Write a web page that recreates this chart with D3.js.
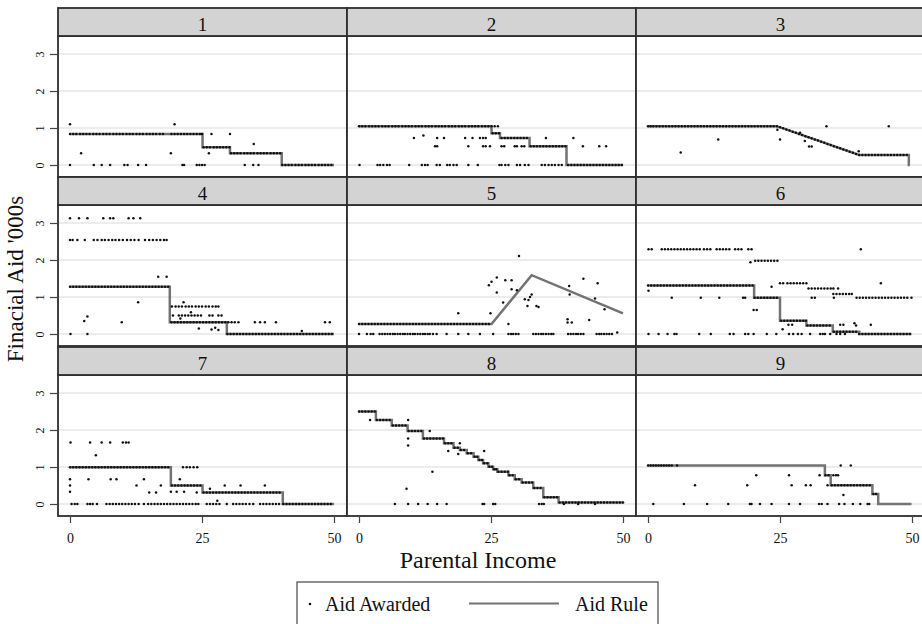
<!DOCTYPE html>
<html>
<head>
<meta charset="utf-8">
<script src="https://cdn.jsdelivr.net/npm/d3@7"></script>
<style>
  body { margin: 0; background: #fff; }
  svg text { font-family: "Liberation Serif", "Times New Roman", serif; fill: #111; }
</style>
</head>
<body>
<svg id="chart" width="922" height="624"></svg>
<script>
// ---- data -------------------------------------------------------------
const panelLabels = ["1", "2", "3", "4", "5", "6", "7", "8", "9"];
const yTicks = [0, 1, 2, 3];
const xTicks = [0, 25, 50];
const yTitle = "Finacial Aid '000s";
const xTitle = "Parental Income";
const legendLabels = ["Aid Awarded", "Aid Rule"];

// Aid rule: vertices [parental income, aid] for each panel
const rule1 = [[0,0.84],[25.1,0.84],[25.1,0.48],[30.3,0.48],[30.3,0.32],[40.1,0.32],[40.1,0],[50,0]];
const rule2 = [[0,1.05],[25.1,1.05],[25.1,0.86],[26.7,0.86],[26.7,0.73],[32.3,0.73],[32.3,0.51],[39.3,0.51],[39.3,0],[50,0]];
const rule3 = [[0,1.05],[24.4,1.05],[40.0,0.27],[49.4,0.27],[49.4,0],[49.6,0]];
const rule4 = [[0,1.28],[18.9,1.28],[18.9,0.32],[29.7,0.32],[29.7,0],[50,0]];
const rule5 = [[0,0.27],[25.1,0.27],[32.7,1.59],[50,0.56]];
const rule6 = [[0,1.31],[20.1,1.31],[20.1,0.98],[25.0,0.98],[25.0,0.36],[30.0,0.36],[30.0,0.23],[35.0,0.23],[35.0,0.06],[40.0,0.06],[40.0,0],[49.9,0]];
const rule7 = [[0,0.99],[19.1,0.99],[19.1,0.5],[25.1,0.5],[25.1,0.31],[40.3,0.31],[40.3,0],[50,0]];
const rule8 = [[0,2.5],[3.2,2.5],[3.2,2.27],[6.2,2.27],[6.2,2.12],[9.2,2.12],[9.2,1.97],[12.1,1.97],[12.1,1.77],[16.1,1.77],[16.1,1.64],[17.9,1.64],[17.9,1.52],[19.1,1.52],[19.1,1.46],[20.4,1.46],[20.4,1.37],[21.7,1.37],[21.7,1.28],[22.6,1.28],[22.6,1.19],[23.5,1.19],[23.5,1.10],[24.5,1.10],[24.5,1.01],[25.4,1.01],[25.4,0.94],[26.2,0.94],[26.2,0.87],[28.3,0.87],[28.3,0.78],[29.5,0.78],[29.5,0.67],[30.8,0.67],[30.8,0.58],[33.0,0.58],[33.0,0.43],[34.9,0.43],[34.9,0.18],[37.8,0.18],[37.8,0.04],[50,0.04]];
const rule9 = [[0,1.04],[33.5,1.04],[33.5,0.78],[34.6,0.78],[34.6,0.51],[42.5,0.51],[42.5,0.27],[43.6,0.27],[43.6,0],[49.9,0]];

// Aid awarded: rows of [aid, [parental incomes]]
const award1 = [
  [1.1, [0, 19.8]],
  [0.84, [0,0.6,1.2,1.9,2.5,3.1,3.7,4.4,5.0,5.6,6.3,6.9,7.5,8.2,8.8,9.4,10.0,10.7,11.3,11.9,12.6,13.2,13.8,14.5,15.1,15.7,16.3,17.0,17.6,19.2,19.8,20.4,21.0,21.6,22.2,22.8,23.4,24.0,24.6,25.0,26.8,30.3]],
  [0.57, [34.8]],
  [0.48, [25.3,25.9,26.5,27.2,27.8,28.4,29.0,29.6,30.2]],
  [0.32, [2.1,19.1,26.3,30.5,31.1,31.7,32.3,33.0,33.6,34.2,34.8,35.5,36.1,36.7,37.3,38.0,38.6,39.2,39.8]],
  [0, [0,4.5,6.0,7.6,10.3,10.9,12.9,14.4,21.3,21.6,24.0,24.5,25.0,25.5,33.1,34.7,35.7,40.2,40.8,41.4,42.0,42.7,43.3,43.9,44.6,45.2,45.8,46.4,47.1,47.7,48.3,48.9,49.5]]
];
const award2 = [
  [1.05, [0,0.6,1.2,1.9,2.5,3.1,3.7,4.4,5.0,5.6,6.3,6.9,7.5,8.2,8.8,9.4,10.0,10.7,11.3,11.9,12.6,13.2,13.8,14.5,15.1,15.7,16.3,17.0,17.6,18.2,18.9,19.5,20.1,20.8,21.4,22.0,22.6,23.3,23.9,24.5,25.1,25.7,26.3]],
  [0.86, [25.3,25.9,26.5]],
  [0.8, [12.2]],
  [0.73, [10.4,14.8,16.1,20.1,21.5,22.9,23.5,24.0,27.0,27.6,28.2,28.8,29.4,30.0,30.6,31.2,31.8,35.4,40.6]],
  [0.51, [14.4,14.8,20.7,23.5,24.0,24.8,27.0,27.5,29.5,29.9,30.8,31.3,32.5,33.1,33.7,34.3,34.9,35.5,36.1,36.7,37.3,37.9,38.5,39.1,42.4,45.5,46.8]],
  [0, [0.1,3.5,4.0,4.6,5.3,5.8,9.5,11.9,12.5,13.0,14.7,15.3,16.7,17.2,17.9,18.5,20.7,22.5,26.6,27.0,27.7,28.3,29.9,30.5,31.4,32.1,34.6,35.2,35.9,36.5,37.1,37.8,38.4,39.6,40.2,40.8,41.4,42.0,42.6,43.2,43.8,44.4,45.0,45.6,46.2,46.8,47.4,48.0,48.6,49.2,49.8]]
];
const award3 = [
  [1.05, [0,0.5,1.0,1.6,2.2,2.8,3.4,4.0,4.6,5.2,5.8,6.4,7.0,7.6,8.2,8.8,9.4,10.0,10.6,11.2,11.8,12.4,13.0,13.6,14.2,14.8,15.4,16.0,16.6,17.2,17.8,18.4,19.0,19.6,20.2,20.8,21.4,22.0,22.6,23.2,23.8,24.4,33.8,45.6]],
  [1.02, [25.0]], [0.99, [25.6]], [0.96, [26.2]], [0.95, [24.5]], [0.93, [26.8]], [0.90, [27.4]],
  [0.87, [28.0, 28.8]], [0.84, [28.6]], [0.81, [29.2]], [0.78, [29.8]], [0.75, [30.4]], [0.72, [31.0]],
  [0.69, [13.3, 25.0, 31.6]], [0.66, [32.2]], [0.65, [29.7]], [0.63, [32.8]], [0.60, [33.4]], [0.57, [34.0]],
  [0.54, [34.6]], [0.51, [35.2]], [0.50, [30.5, 31.0]], [0.48, [35.8]], [0.45, [36.4]], [0.42, [37.0]],
  [0.39, [37.6]], [0.37, [39.9]], [0.36, [38.2]], [0.34, [6.2]], [0.33, [38.8]], [0.30, [39.4]],
  [0.27, [40.0,40.6,41.2,41.8,42.4,43.0,43.6,44.2,44.8,45.4,46.0,46.6,47.2,47.8,48.4,49.0]]
];
const award4 = [
  [3.13, [0.0,1.7,3.3,6.3,7.6,8.2,11.1,12.0,13.3]],
  [2.54, [0.0,0.5,1.4,2.8,4.5,5.2,6.0,6.6,7.3,8.0,8.6,9.3,10.0,10.8,11.5,12.2,13.0,14.2,15.0,15.7,16.4,17.1,17.8,18.3]],
  [1.55, [16.7,18.3]],
  [1.28, [0,0.6,1.2,1.8,2.4,3.0,3.6,4.2,4.8,5.4,6.0,6.6,7.2,7.8,8.4,9.0,9.6,10.2,10.8,11.4,12.0,12.6,13.2,13.8,14.4,15.0,15.6,16.2,16.8,17.4,18.0,18.6]],
  [0.86, [12.9,21.5]],
  [0.74, [19.3,20.0,20.6,21.2,21.9,22.5,23.1,23.8,24.4,25.0,25.7,26.3,27.0,27.6,28.1]],
  [0.59, [22.9]],
  [0.5, [19.5,20.6,21.2,21.8,22.4,23.0,23.6,24.2,24.8,26.4,27.0,28.1,28.7]],
  [0.47, [3.3]],
  [0.42, [20.9]],
  [0.35, [2.7]],
  [0.32, [9.8,19.2,19.8,20.4,21.0,21.6,22.2,22.8,23.4,24.0,24.6,25.2,25.8,26.4,27.0,27.6,28.2,28.8,29.4,30.0,30.6,31.2,31.9,35.0,36.0,36.9,39.0,48.3,49.2]],
  [0.17, [27.5]], [0.15, [24.4]], [0.12, [26.8]], [0.11, [28.1]], [0.08, [43.9]],
  [0, [0.1,3.3,29.8,30.4,31.0,31.6,32.2,32.8,33.4,34.0,34.6,35.2,35.8,36.4,37.0,37.6,38.2,38.8,39.4,40.0,40.6,41.2,41.8,42.4,43.0,43.6,44.2,44.8,45.4,46.0,46.6,47.2,47.8,48.4,49.0,49.6]]
];
const award5 = [
  [0.27, [0,0.6,1.2,1.8,2.4,3.0,3.6,4.2,4.8,5.4,6.0,6.6,7.2,7.8,8.4,9.0,9.6,10.2,10.8,11.4,12.0,12.6,13.2,13.8,14.4,15.0,15.6,16.2,16.8,17.4,18.0,18.6,19.2,19.8,20.4,21.0,21.6,22.2,22.8,23.4,24.0,24.6,28.3]],
  [0, [0,1.5,2.2,2.7,3.9,4.4,4.9,5.4,5.9,6.4,6.8,7.3,7.8,8.3,8.7,9.2,9.7,10.2,10.6,11.1,11.6,12.1,12.5,13.0,13.4,14.0,14.7,16.6,18.8,20.7,22.9,25.4,28.3,28.8,29.2,29.7,30.2,33.0,33.5,34.0,34.5,34.9,35.4,35.9,36.4,36.8,39.6,40.1,40.6,41.1,41.5,42.0,42.5,45.0,45.5,45.9,46.4,46.9,47.4,47.9]],
  [0.04, [48.9]],
  [0.56, [18.8,24.9]],
  [1.32, [24.6]], [1.41, [25.1]], [1.53, [26.1]], [1.12, [26.1]], [1.45, [27.7,28.9]], [1.21, [28.9]],
  [0.85, [27.3]], [1.18, [29.9]], [2.11, [30.3]], [0.94, [31.4]], [0.92, [32.1]], [1.0, [32.4]],
  [1.07, [32.7,39.9]], [0.76, [31.9,33.6]], [0.73, [34.0]], [1.3, [39.8]], [1.49, [42.5]], [1.37, [45.2]],
  [0.96, [44.7]], [0.4, [39.5]], [0.31, [39.5,40.3]], [0.38, [43.6]], [0.67, [46.5]]
];
const award6 = [
  [2.29, [0.1,0.7,2.6,3.2,3.8,4.4,5.0,5.6,6.2,6.8,7.4,8.0,8.6,9.2,9.8,10.6,11.2,11.8,13.0,13.6,14.2,14.8,15.4,16.5,17.1,17.7,19.0,19.6,40.3]],
  [1.98, [20.3,20.9,21.5,22.1,22.7,23.3,23.9,24.5]],
  [1.94, [19.4]],
  [1.37, [25.0,25.6,26.4,27.0,27.6,28.2,28.8,29.4,30.0,44.1]],
  [1.31, [0,0.6,1.2,1.8,2.4,3.0,3.6,4.2,4.8,5.4,6.0,6.6,7.2,7.8,8.4,9.0,9.6,10.2,10.8,11.4,12.0,12.6,13.2,13.8,14.4,15.0,15.6,16.2,16.8,17.4,18.0,18.6,19.2,19.8]],
  [1.28, [23.4]],
  [1.23, [30.4,31.0,31.6,32.2,32.8,33.4,34.0,34.6,35.1,36.0]],
  [1.17, [0.1]],
  [1.08, [35.1,35.7,36.3,36.9,37.5,38.1,38.6]],
  [0.98, [4.5,10.0,13.5,18.0,18.4,20.2,20.8,21.4,22.0,22.6,23.2,23.8,24.4,31.0,31.6,35.2,39.5,40.1,40.7,41.3,41.9,42.5,43.1,43.7,44.3,44.9,45.5,46.1,46.7,47.3,47.9,48.5,49.1,49.9]],
  [0.65, [20.0,20.6]],
  [0.36, [25.2,25.8,26.4,27.0,27.6,28.2,28.8,29.4,29.9]],
  [0.29, [39.1]],
  [0.25, [26.6,27.3,36.4,37.0,42.2]],
  [0.23, [30.2,30.8,31.4,32.0,32.6,33.2,33.8,34.4,39.4]],
  [0.13, [25.5]],
  [0.06, [35.2,35.8,36.4,37.0,37.6,38.2,38.8,39.4]],
  [0, [0.1,2.0,3.7,5.0,5.4,9.7,11.9,15.5,16.2,18.4,19.0,20.0,22.5,24.3,26.7,27.5,28.4,29.1,30.7,32.6,33.1,33.5,34.5,35.7,36.4,37.3,40.0,40.6,41.2,41.8,42.4,43.0,43.6,44.2,44.8,45.4,46.0,46.6,47.2,47.8,48.4,49.0,49.6]]
];
const award7 = [
  [1.66, [0.1,3.8,6.0,7.6,10.0,10.6,11.1]],
  [1.32, [4.9]],
  [0.99, [0,0.6,1.2,1.8,2.4,3.0,3.6,4.2,4.8,5.4,6.0,6.6,7.2,7.8,8.4,9.0,9.6,10.2,10.8,11.4,12.0,12.6,13.2,13.8,14.4,15.0,15.6,16.2,16.8,17.4,18.0,18.6,21.4,22.1,22.7,23.4,24.1]],
  [0.67, [0,3.5,7.7,8.8,14.0,20.8]],
  [0.5, [0,12.6,17.2,19.3,19.9,20.5,21.1,21.7,22.3,22.9,23.5,24.1,24.7,29.3,32.3,36.9]],
  [0.41, [26.5]],
  [0.33, [0,19.1,20.2,21.6]],
  [0.31, [15.0,16.3,24.0,25.3,25.9,26.5,27.1,27.7,28.3,28.9,29.5,30.1,30.7,31.3,31.9,32.5,33.1,33.7,34.3,34.9,35.5,36.1,36.7,37.3,37.9,38.5,39.1,39.7]],
  [0.09, [27.9]],
  [0, [0.3,0.9,1.4,3.3,3.8,4.3,5.1,6.9,7.5,8.1,8.7,9.3,9.9,10.5,11.1,11.7,12.3,13.0,14.0,14.8,15.4,16.0,16.6,17.2,17.8,18.4,19.0,19.6,20.2,20.8,21.4,22.0,22.6,23.2,23.8,24.3,25.9,26.5,27.1,27.7,28.3,29.7,30.9,31.5,32.1,32.7,33.3,34.0,34.7,36.0,36.6,37.2,37.8,38.4,39.0,39.6,40.4,41.0,41.6,42.2,42.8,43.4,44.0,44.6,45.2,45.8,46.4,47.0,47.6,48.2,48.8,49.4]]
];
const award8 = [
  [2.5, [0,0.6,1.2,1.8,2.4,3.0]],
  [2.27, [2.1,3.4,4.0,4.6,5.2,5.8,9.3]],
  [2.12, [6.4,7.0,7.6,8.2,8.8]],
  [1.97, [9.4,10.0,10.6,11.2,11.8,13.4]],
  [1.77, [9.3,12.3,12.9,13.5,14.1,14.7,15.3,15.9]],
  [1.64, [16.3,16.9,17.5,19.1]],
  [1.58, [9.3]],
  [1.52, [18.1,18.7]],
  [1.46, [19.3,19.9]],
  [1.43, [16.9,23.7]],
  [1.37, [20.6,21.2]],
  [1.35, [18.8]],
  [1.28, [21.9,22.4]],
  [1.19, [22.8,23.3]],
  [1.10, [23.7,24.3]],
  [1.01, [24.7,25.2]],
  [0.94, [25.6,26.0]],
  [0.87, [13.9,26.4,27.0,27.6,28.2]],
  [0.78, [28.5,29.1]],
  [0.67, [29.7,30.3]],
  [0.58, [31.0,31.6,32.2,32.8]],
  [0.43, [33.2,33.8,34.4]],
  [0.41, [9.0]],
  [0.18, [35.1,35.7,36.3,36.9,37.5]],
  [0.04, [38.0,38.6,39.2,39.8,40.4,41.0,41.6,42.2,42.8,43.4,44.0,44.6,45.2,45.8,46.4,47.0,47.6,48.2,48.8,49.4,50.0]],
  [0, [6.8,9.3,11.2,13.0,14.8,16.6,23.4,23.7,25.4,25.8,34.1,34.6,35.0,38.8,41.5,44.7]]
];
const award9 = [
  [1.04, [0,0.5,1.0,1.5,2.0,2.5,3.0,3.5,4.0,4.5,5.5,36.5,38.4]],
  [0.78, [20.5,26.7,32.5,33.6,34.2,35.1,35.6,36.0]],
  [0.51, [8.9,18.8,27.2,29.9,30.8,34.0,34.8,35.4,36.0,36.6,37.2,37.8,38.4,39.0,39.6,40.2,40.8,41.4,42.0]],
  [0.27, [42.7,43.2]],
  [0.24, [37.0]],
  [0, [1.0,6.8,11.2,15.2,19.3,19.6,21.2,23.4,26.7,28.8,32.4,32.9,34.0,36.2,37.2,38.8,40.2,41.6,41.9]]
];

const rules = [rule1, rule2, rule3, rule4, rule5, rule6, rule7, rule8, rule9];
const awards = [award1, award2, award3, award4, award5, award6, award7, award8, award9];

// ---- layout -----------------------------------------------------------
const colLeft = [58, 347, 636];
const panelW = 289;
const rowTop = [8, 177, 347];
const headerH = 28;
const plotH = 141;
const ruleColor = "#737373";
const frameColor = "#2e2e2e";

const svg = d3.select("#chart");

panelLabels.forEach((label, i) => {
  const col = i % 3, row = Math.floor(i / 3);
  const left = colLeft[col];
  const top = rowTop[row];
  const plotTop = top + headerH;
  const x = d3.scaleLinear().domain([0, 50]).range([left + 12, left + 276]);
  const y = d3.scaleLinear().domain([0, 3]).range([plotTop + plotH - 12, plotTop + plotH - 123]);

  const g = svg.append("g").attr("class", "panel");

  g.append("rect")
    .attr("x", left).attr("y", plotTop)
    .attr("width", panelW).attr("height", plotH)
    .attr("fill", "#fff");

  // horizontal grid
  g.selectAll("line.grid").data(yTicks).join("line")
    .attr("class", "grid")
    .attr("x1", left + 1).attr("x2", left + panelW - 1)
    .attr("y1", d => y(d)).attr("y2", d => y(d))
    .attr("stroke", "#e6e6e6").attr("stroke-width", 1.5);

  // aid rule
  g.append("path")
    .datum(rules[i])
    .attr("d", d3.line().x(d => x(d[0])).y(d => y(d[1])))
    .attr("fill", "none")
    .attr("stroke", ruleColor)
    .attr("stroke-width", 2.5);

  // aid awarded
  const pts = awards[i].flatMap(([aid, incomes]) => incomes.map(inc => [inc, aid]));
  g.selectAll("circle").data(pts).join("circle")
    .attr("cx", d => x(d[0])).attr("cy", d => y(d[1]))
    .attr("r", 1.25)
    .attr("fill", "#111");

  // frame
  g.append("rect")
    .attr("x", left).attr("y", plotTop)
    .attr("width", panelW).attr("height", plotH)
    .attr("fill", "none").attr("stroke", frameColor).attr("stroke-width", 1.8);

  // strip header
  g.append("rect")
    .attr("x", left).attr("y", top)
    .attr("width", panelW).attr("height", headerH)
    .attr("fill", "#d3d3d3").attr("stroke", frameColor).attr("stroke-width", 1.8);
  g.append("text")
    .attr("x", left + panelW / 2).attr("y", top + 23)
    .attr("text-anchor", "middle")
    .style("font-size", "19px")
    .text(label);

  // y axis on the first column
  if (col === 0) {
    const ay = g.append("g")
      .attr("transform", `translate(${left},0)`)
      .call(d3.axisLeft(y).tickValues(yTicks).tickSize(8).tickFormat(d3.format("d")));
    ay.select(".domain").remove();
    ay.selectAll(".tick line").attr("stroke", "#444").attr("stroke-width", 1.2);
    ay.selectAll(".tick text")
      .attr("x", null).attr("dy", null)
      .attr("transform", "translate(-14,0) rotate(-90)")
      .attr("text-anchor", "middle")
      .style("font-size", "12px")
      .style("font-family", "'Liberation Serif', 'Times New Roman', serif")
      .attr("fill", "#111");
  }

  // x axis on the bottom row
  if (row === 2) {
    const ax = g.append("g")
      .attr("transform", `translate(0,${plotTop + plotH})`)
      .call(d3.axisBottom(x).tickValues(xTicks).tickSize(7).tickFormat(d3.format("d")));
    ax.select(".domain").remove();
    ax.selectAll(".tick line").attr("stroke", "#444").attr("stroke-width", 1.2);
    ax.selectAll(".tick text")
      .attr("y", 27).attr("dy", null)
      .style("font-size", "14px")
      .style("font-family", "'Liberation Serif', 'Times New Roman', serif")
      .attr("fill", "#111");
  }
});

// axis titles
svg.append("text")
  .attr("transform", "translate(23,279) rotate(-90)")
  .attr("text-anchor", "middle")
  .style("font-size", "23px")
  .text(yTitle);

svg.append("text")
  .attr("x", 478).attr("y", 568)
  .attr("text-anchor", "middle")
  .style("font-size", "24px")
  .text(xTitle);

// legend
const lg = svg.append("g").attr("class", "legend");
lg.append("rect")
  .attr("x", 297).attr("y", 582)
  .attr("width", 361).attr("height", 60)
  .attr("fill", "#fff").attr("stroke", "#555").attr("stroke-width", 1.3);
lg.append("circle").attr("cx", 310).attr("cy", 604).attr("r", 1.25).attr("fill", "#111");
lg.append("text").attr("x", 325).attr("y", 611).style("font-size", "20px").text(legendLabels[0]);
lg.append("line")
  .attr("x1", 469).attr("x2", 559).attr("y1", 603.5).attr("y2", 603.5)
  .attr("stroke", ruleColor).attr("stroke-width", 2);
lg.append("text").attr("x", 575).attr("y", 611).style("font-size", "20px").text(legendLabels[1]);
</script>
</body>
</html>
